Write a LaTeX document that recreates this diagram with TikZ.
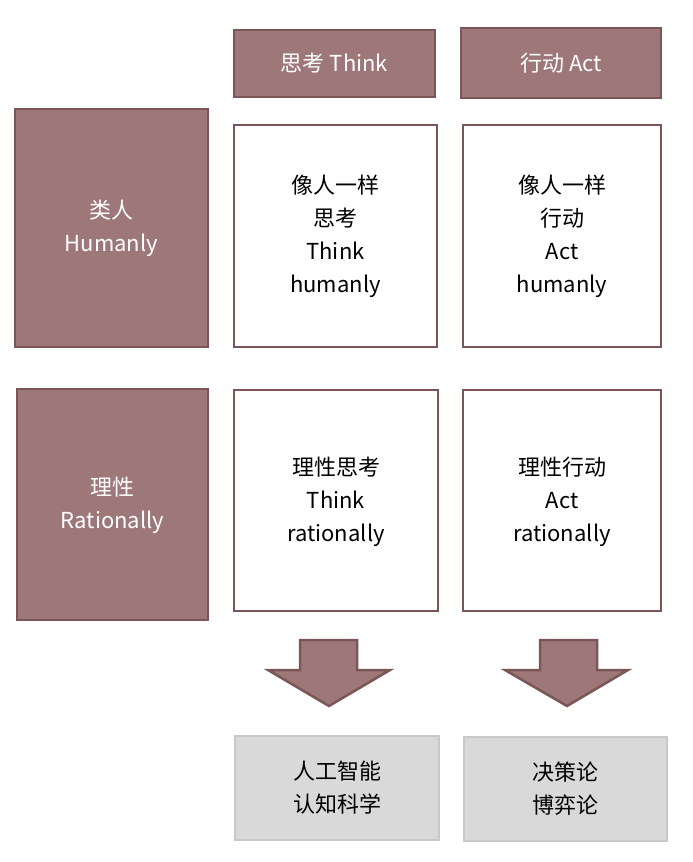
\documentclass[tikz,border=0pt]{standalone}
\usepackage{fontspec}
\setmainfont{Noto Sans CJK SC}[Scale=1]
\begin{document}
\begin{tikzpicture}[x=1pt,y=-1pt,
  hdr/.style={draw=mauveD,fill=mauve,line width=2.5pt,text=white},
  wbox/.style={draw=mauveD,fill=white,line width=2.5pt},
  gbox/.style={draw=grayD,fill=grayL,line width=2.5pt},
  lbl/.style={align=center,font=\fontsize{22}{33}\selectfont}]
\definecolor{mauve}{HTML}{9E7878}
\definecolor{mauveD}{HTML}{7A5656}
\definecolor{grayL}{HTML}{D9D9D9}
\definecolor{grayD}{HTML}{C9C9C9}
\useasboundingbox (0,0) rectangle (693,862);
\draw[hdr] (234,30) rectangle (435,97);
\node[lbl,text=white] (h1) at (334.5,63.5) {思考 Think};
\draw[hdr] (461,28) rectangle (661,98);
\node[lbl,text=white] (h2) at (561,63) {行动 Act};
\draw[hdr] (15,109) rectangle (208,347);
\node[lbl,text=white] (l1) at (111.5,228) {类人\\Humanly};
\draw[hdr] (17,389) rectangle (208,620);
\node[lbl,text=white] (l2) at (112.5,505) {理性\\Rationally};
\draw[wbox] (234,125) rectangle (437,347);
\node[lbl] (b1) at (335.5,236) {像人一样\\思考\\Think\\humanly};
\draw[wbox] (463,125) rectangle (661,347);
\node[lbl] (b2) at (562,236) {像人一样\\行动\\Act\\humanly};
\draw[wbox] (234,390) rectangle (438,611);
\node[lbl] (b3) at (336,502) {理性思考\\Think\\rationally};
\draw[wbox] (463,390) rectangle (661,611);
\node[lbl] (b4) at (562,502) {理性行动\\Act\\rationally};
\draw[mauveD,fill=mauve,line width=2.5pt,line join=miter] (300,640) -- (357,640) -- (357,670) -- (390,670) -- (329,706) -- (268,670) -- (300,670) -- cycle;
\draw[mauveD,fill=mauve,line width=2.5pt,line join=miter] (540,640) -- (597,640) -- (597,670) -- (628,670) -- (567,706) -- (505,670) -- (540,670) -- cycle;
\draw[gbox] (235,736) rectangle (439,840);
\node[lbl] (g1) at (337,788) {人工智能\\认知科学};
\draw[gbox] (464,737) rectangle (667,841);
\node[lbl] (g2) at (565.5,789) {决策论\\博弈论};
\end{tikzpicture}
\end{document}
